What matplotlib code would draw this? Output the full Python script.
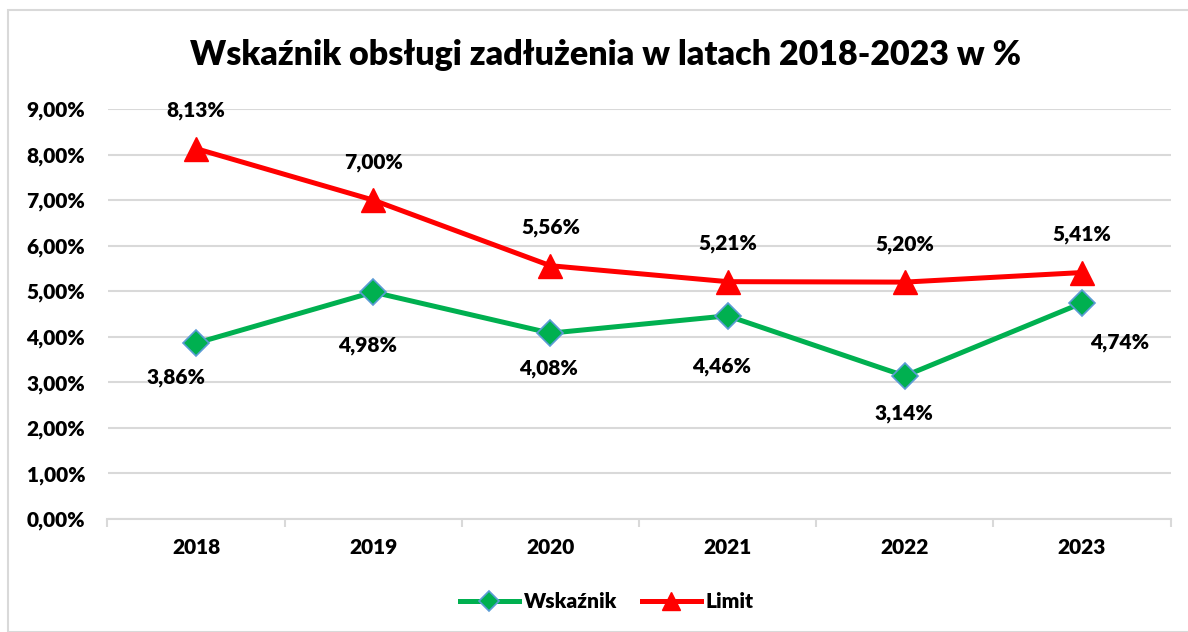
import numpy as np
import matplotlib
matplotlib.use("Agg")
import matplotlib.pyplot as plt
from matplotlib.patches import Rectangle

years = ["2018", "2019", "2020", "2021", "2022", "2023"]
wskaznik = [3.86, 4.98, 4.08, 4.46, 3.14, 4.74]
limit = [8.13, 7.00, 5.56, 5.21, 5.20, 5.41]
yticks = [0, 1, 2, 3, 4, 5, 6, 7, 8, 9]

plt.rcParams["font.family"] = ["Lato", "DejaVu Sans"]
plt.rcParams["font.weight"] = "heavy"
W = "heavy"

fig = plt.figure(figsize=(11.88, 6.32), dpi=100)
ax = fig.add_axes([107.5 / 1188, 113 / 632, 1063 / 1188, 410 / 632])

# chart frame like in Excel
fig.patches.append(Rectangle((8 / 1188, 0), 1.2, 622 / 632, transform=fig.transFigure,
                             fill=False, edgecolor="#D9D9D9", linewidth=1.5))

x = np.arange(len(years))
ax.plot(x, wskaznik, color="#00B050", linewidth=3.6, marker="D", markersize=13,
        markerfacecolor="#00B050", markeredgecolor="#5B9BD5", markeredgewidth=1.2,
        label="Wskaźnik", zorder=3)
ax.plot(x, limit, color="#FF0000", linewidth=3.6, marker="^", markersize=17,
        markerfacecolor="#FF0000", markeredgecolor="#FF0000", label="Limit", zorder=3)

# data labels (offsets in px)
w_off = [(-20, -34), (-6, -53), (-2, -35), (-6, -51), (-1, -38), (38, -39)]
for i, v in enumerate(wskaznik):
    ax.annotate(f"{v:.2f}%".replace(".", ","), (x[i], v),
                xytext=(w_off[i][0] * 0.72, w_off[i][1] * 0.72), textcoords="offset points",
                ha="center", va="center", fontsize=15, fontweight=W)
for i, v in enumerate(limit):
    ax.annotate(f"{v:.2f}%".replace(".", ","), (x[i], v),
                xytext=(0, 38 * 0.72), textcoords="offset points",
                ha="center", va="center", fontsize=15, fontweight=W)

ax.set_xlim(-0.5, 5.5)
ax.set_ylim(0, 9)
ax.set_yticks(yticks)
ax.set_yticklabels([f"{t:.2f}%".replace(".", ",") for t in yticks], fontweight=W)
ax.set_xticks(x)
ax.set_xticklabels(years, fontweight=W)
ax.set_xticks(np.arange(-0.5, 6, 1), minor=True)
ax.tick_params(axis="x", which="major", length=0, pad=14, labelsize=15)
ax.tick_params(axis="x", which="minor", length=6, color="#D9D9D9", width=1.5)
ax.tick_params(axis="y", length=0, pad=16, labelsize=15)
ax.grid(axis="y", color="#D9D9D9", linewidth=1.5)
ax.set_axisbelow(True)
for s in ["top", "right", "left"]:
    ax.spines[s].set_visible(False)
ax.spines["bottom"].set_color("#D9D9D9")
ax.spines["bottom"].set_linewidth(1.5)

fig.text(605 / 1188, 1 - 55 / 632, "Wskaźnik obsługi zadłużenia w latach 2018-2023 w %",
         ha="center", va="center", fontsize=24.5, fontweight=W)

ax.legend(loc="center", bbox_to_anchor=(607 / 1188, 1 - 602 / 632), bbox_transform=fig.transFigure,
          ncol=2, frameon=False, prop={"size": 15, "weight": W}, handlelength=2.8,
          columnspacing=1.2, handletextpad=0.25, markerscale=0.75)

fig.savefig("out.png", dpi=100)
